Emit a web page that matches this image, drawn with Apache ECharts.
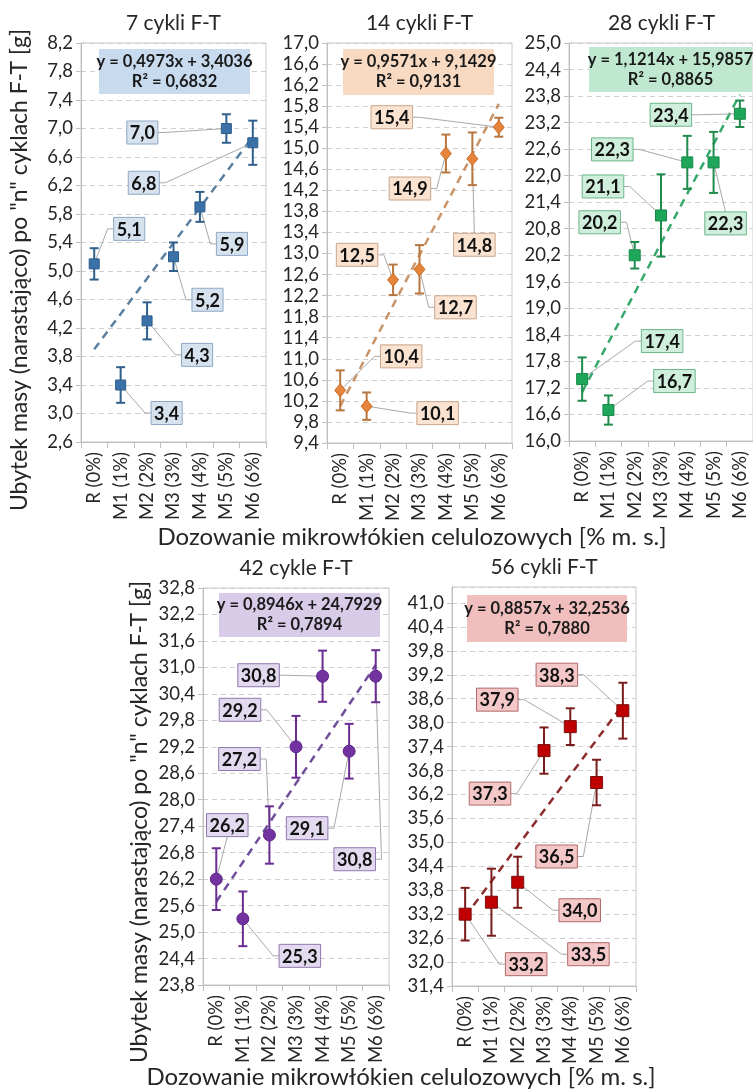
<!DOCTYPE html>
<html>
<head>
<meta charset="utf-8">
<script src="https://cdn.jsdelivr.net/npm/echarts@6/dist/echarts.min.js"></script>
<style>
  html, body { margin: 0; padding: 0; background: #ffffff; }
  #chart { width: 753px; height: 1090px; }
</style>
</head>
<body>
<div id="chart"></div>
<script>
// Dosage of cellulose microfibres (category axis)
const categories = ['R (0%)', 'M1 (1%)', 'M2 (2%)', 'M3 (3%)', 'M4 (4%)', 'M5 (5%)', 'M6 (6%)'];
const panelTitles = ['7 cykli F-T', '14 cykli F-T', '28 cykli F-T', '42 cykle F-T', '56 cykli F-T'];

// Cumulative mass loss [g] after n freeze-thaw cycles
const loss7  = [5.1, 3.4, 4.3, 5.2, 5.9, 7.0, 6.8];
const loss14 = [10.4, 10.1, 12.5, 12.7, 14.9, 14.8, 15.4];
const loss28 = [17.4, 16.7, 20.2, 21.1, 22.3, 22.3, 23.4];
const loss42 = [26.2, 25.3, 27.2, 29.2, 30.8, 29.1, 30.8];
const loss56 = [33.2, 33.5, 34.0, 37.3, 37.9, 36.5, 38.3];

// Standard deviations (error bars)
const sd7  = [0.22, 0.25, 0.26, 0.20, 0.21, 0.20, 0.31];
const sd14 = [0.38, 0.26, 0.29, 0.46, 0.36, 0.50, 0.18];
const sd28 = [0.49, 0.33, 0.30, 0.93, 0.60, 0.69, 0.30];
const sd42 = [0.70, 0.62, 0.65, 0.70, 0.58, 0.62, 0.59];
const sd56 = [0.66, 0.84, 0.64, 0.58, 0.46, 0.57, 0.70];

// Linear trend lines: y = a*x + b, x = 1..7
const trendSlope     = [0.4973, 0.9571, 1.1214, 0.8946, 0.8857];
const trendIntercept = [3.4036, 9.1429, 15.9857, 24.7929, 32.2536];
const trendR2        = [0.6832, 0.9131, 0.8865, 0.7894, 0.7880];

// Value axis ranges
const yMin  = [2.6, 9.4, 16.0, 23.8, 31.4];
const yMax  = [8.2, 17.0, 25.0, 32.8, 41.4];
const yStep = [0.4, 0.4, 0.6, 0.6, 0.6];

// Data-label placement (pixel shift of each label box from its point)
const labelShift7  = [[35, -35], [46, 28], [50, 34], [34, 43], [32, 37], [-84, 4], [-109, 40]];
const labelShift14 = [[61, -34], [71, 7], [-36, -25], [36, 38], [-36, 35], [2, 86], [-107, -10]];
const labelShift28 = [[80, -38], [66, -29], [-35, -33], [-58, -29], [-75, -13], [12, 61], [-69, 1]];
const labelShift42 = [[11, -54], [57, 37], [-30, -76], [-56, -37], [-64, -1], [-42, 77], [-21, 183]];
const labelShift56 = [[61, 50], [97, 52], [62, 28], [-54, 43], [-73, -27], [-40, 74], [-66, -36]];

const losses = [loss7, loss14, loss28, loss42, loss56];
const deviations = [sd7, sd14, sd28, sd42, sd56];
const shifts = [labelShift7, labelShift14, labelShift28, labelShift42, labelShift56];

const FONT = 'Lato, "Open Sans", sans-serif';
const TEXT = '#262626';

const grids = [
  { left: 81,  top: 43,  width: 185, height: 399 },
  { left: 327, top: 43,  width: 185, height: 400 },
  { left: 569, top: 43,  width: 185, height: 398 },
  { left: 203, top: 588, width: 186, height: 397 },
  { left: 452, top: 587, width: 184, height: 399 }
];

const styles = [
  { shape: 'square',  size: 10, fill: '#3a72a8', edge: '#2d5d8c', err: '#2f5f8c', trend: '#5a7f9f',
    boxFill: '#d7e2ef', boxEdge: '#8ea8c6', eqFill: '#c7daee' },
  { shape: 'diamond', size: 13, fill: '#e5843a', edge: '#c96c26', err: '#b8763f', trend: '#c99467',
    boxFill: '#fbe3d2', boxEdge: '#c9a58a', eqFill: '#f8dac3' },
  { shape: 'square',  size: 11, fill: '#1ea65a', edge: '#178a49', err: '#1f8c4e', trend: '#35a96a',
    boxFill: '#cfeedc', boxEdge: '#6cb68a', eqFill: '#c0e8d1' },
  { shape: 'circle',  size: 12, fill: '#7232a0', edge: '#5f2689', err: '#6a2c91', trend: '#6f4e9c',
    boxFill: '#e3daef', boxEdge: '#8f78ad', eqFill: '#d7cbe8' },
  { shape: 'square',  size: 12, fill: '#c00000', edge: '#7a1010', err: '#7b1c1c', trend: '#8c2c2c',
    boxFill: '#f4c8c8', boxEdge: '#b06a6a', eqFill: '#f1bebe' }
];

const fmt = (v, d) => v.toFixed(d).replace('.', ',');

const measureCtx = document.createElement('canvas').getContext('2d');
const LABEL_FONT = 'bold 18px ' + FONT;
function textWidth(t) {
  measureCtx.font = LABEL_FONT;
  return measureCtx.measureText(t).width;
}

// Points, error bars, leader lines and boxed value labels
function makeRenderer(p) {
  const st = styles[p];
  return function (params, api) {
    const i = api.value(0), v = api.value(1), e = api.value(2);
    const dx = api.value(3), dy = api.value(4);
    const pt = api.coord([i, v]);
    const hi = api.coord([i, v + e]);
    const lo = api.coord([i, v - e]);
    const txt = fmt(v, 1);
    const halfW = textWidth(txt) / 2 + 3;
    const halfH = 11.5;
    const cx = pt[0] + dx, cy = pt[1] + dy;

    let guide;
    if (pt[0] < cx - halfW) guide = [[cx - halfW, cy], [cx - halfW - 6, cy], pt];
    else if (pt[0] > cx + halfW) guide = [[cx + halfW, cy], [cx + halfW + 6, cy], pt];
    else if (pt[1] < cy) guide = [[cx, cy - halfH], pt];
    else guide = [[cx, cy + halfH], pt];

    const capW = 4.5;
    const children = [
      { type: 'polyline', shape: { points: guide }, style: { stroke: '#a9a9a9', lineWidth: 1, fill: null } },
      { type: 'line', shape: { x1: pt[0], y1: hi[1], x2: pt[0], y2: lo[1] }, style: { stroke: st.err, lineWidth: 2 } },
      { type: 'line', shape: { x1: pt[0] - capW, y1: hi[1], x2: pt[0] + capW, y2: hi[1] }, style: { stroke: st.err, lineWidth: 2 } },
      { type: 'line', shape: { x1: pt[0] - capW, y1: lo[1], x2: pt[0] + capW, y2: lo[1] }, style: { stroke: st.err, lineWidth: 2 } }
    ];
    const s = st.size / 2;
    if (st.shape === 'square') {
      children.push({ type: 'rect', shape: { x: pt[0] - s, y: pt[1] - s, width: st.size, height: st.size },
        style: { fill: st.fill, stroke: st.edge, lineWidth: 1 } });
    } else if (st.shape === 'diamond') {
      children.push({ type: 'polygon', shape: { points: [[pt[0], pt[1] - s], [pt[0] + s * 0.85, pt[1]], [pt[0], pt[1] + s], [pt[0] - s * 0.85, pt[1]]] },
        style: { fill: st.fill, stroke: st.edge, lineWidth: 1 } });
    } else {
      children.push({ type: 'circle', shape: { cx: pt[0], cy: pt[1], r: s },
        style: { fill: st.fill, stroke: st.edge, lineWidth: 1 } });
    }
    children.push({ type: 'rect', shape: { x: cx - halfW, y: cy - halfH, width: halfW * 2, height: halfH * 2 },
      style: { fill: st.boxFill, stroke: st.boxEdge, lineWidth: 1 } });
    children.push({ type: 'text', x: cx, y: cy + 1,
      style: { text: txt, font: LABEL_FONT, fill: '#111111', align: 'center', verticalAlign: 'middle' } });
    return { type: 'group', children: children };
  };
}

const xAxes = [], yAxes = [], series = [], graphics = [];

grids.forEach((g, p) => {
  const st = styles[p];
  xAxes.push({
    type: 'category', gridIndex: p, data: categories, boundaryGap: true,
    axisLine: { lineStyle: { color: '#bfbfbf', width: 1 } },
    axisTick: { show: true, length: 6, lineStyle: { color: '#bfbfbf' } },
    axisLabel: { rotate: 90, margin: 10, fontFamily: FONT, fontSize: 18.5, color: TEXT },
    splitLine: { show: false }
  });
  yAxes.push({
    type: 'value', gridIndex: p, min: yMin[p], max: yMax[p], interval: yStep[p],
    axisLine: { show: true, lineStyle: { color: '#bfbfbf', width: 1 } },
    axisTick: { show: true, length: 5, lineStyle: { color: '#bfbfbf' } },
    axisLabel: { margin: 8, fontFamily: FONT, fontSize: 18.5, color: TEXT, showMaxLabel: p !== 4,
      formatter: v => fmt(v, 1) },
    splitLine: { show: true, lineStyle: { color: '#cfcfcf', type: [5, 4], width: 1 } }
  });

  series.push({
    type: 'line', xAxisIndex: p, yAxisIndex: p, z: 2,
    data: categories.map((c, k) => +(trendSlope[p] * (k + 1) + trendIntercept[p]).toFixed(4)),
    symbol: 'none', silent: true,
    lineStyle: { color: st.trend, width: 2.5, type: [8, 6] }
  });
  series.push({
    type: 'custom', xAxisIndex: p, yAxisIndex: p, z: 3,
    data: losses[p].map((v, k) => [k, v, deviations[p][k], shifts[p][k][0], shifts[p][k][1]]),
    renderItem: makeRenderer(p)
  });

  // panel title
  graphics.push({
    type: 'text', x: g.left + g.width / 2, y: g.top - 20, z: 100,
    style: { text: panelTitles[p], font: '21px ' + FONT, fill: TEXT, align: 'center', verticalAlign: 'middle' }
  });
});

// trend-line equation boxes
const eqBoxes = [
  { x: 99,  y: 49,  w: 151, h: 45 },
  { x: 343, y: 49,  w: 151, h: 46 },
  { x: 589, y: 47,  w: 163, h: 45 },
  { x: 219, y: 593, w: 161, h: 44 },
  { x: 467, y: 595, w: 160, h: 47 }
];
eqBoxes.forEach((b, p) => {
  graphics.push({
    type: 'group', z: 100, children: [
      { type: 'rect', z: 100, shape: { x: b.x, y: b.y, width: b.w, height: b.h }, style: { fill: styles[p].eqFill } },
      { type: 'text', z: 101, x: b.x + b.w / 2, y: b.y + b.h / 2,
        style: {
          text: 'y = ' + fmt(trendSlope[p], 4) + 'x + ' + fmt(trendIntercept[p], 4) + '\nR² = ' + fmt(trendR2[p], 4),
          font: 'bold 16.5px ' + FONT, lineHeight: 20, fill: '#1a1a1a', align: 'center', verticalAlign: 'middle'
        } }
    ]
  });
});

// axis titles
const yTitle = 'Ubytek masy (narastająco) po "n" cyklach F-T [g]';
const xTitle = 'Dozowanie mikrowłókien celulozowych [% m. s.]';
graphics.push(
  { type: 'text', x: 20, y: 270, rotation: Math.PI / 2, z: 100,
    style: { text: yTitle, font: '23px ' + FONT, fill: TEXT, align: 'center', verticalAlign: 'middle' } },
  { type: 'text', x: 140, y: 822, rotation: Math.PI / 2, z: 100,
    style: { text: yTitle, font: '23px ' + FONT, fill: TEXT, align: 'center', verticalAlign: 'middle' } },
  { type: 'text', x: 412, y: 537, z: 100,
    style: { text: xTitle, font: '24px ' + FONT, fill: TEXT, align: 'center', verticalAlign: 'middle' } },
  { type: 'text', x: 401, y: 1077, z: 100,
    style: { text: xTitle, font: '24px ' + FONT, fill: TEXT, align: 'center', verticalAlign: 'middle' } }
);

const chart = echarts.init(document.getElementById('chart'), null, { renderer: 'canvas' });
chart.setOption({
  backgroundColor: '#ffffff',
  animation: false,
  grid: grids.map(g => Object.assign({ show: true, borderColor: '#c8c8c8', borderWidth: 1, backgroundColor: 'transparent' }, g)),
  xAxis: xAxes,
  yAxis: yAxes,
  series: series,
  graphic: graphics
});
</script>
</body>
</html>
